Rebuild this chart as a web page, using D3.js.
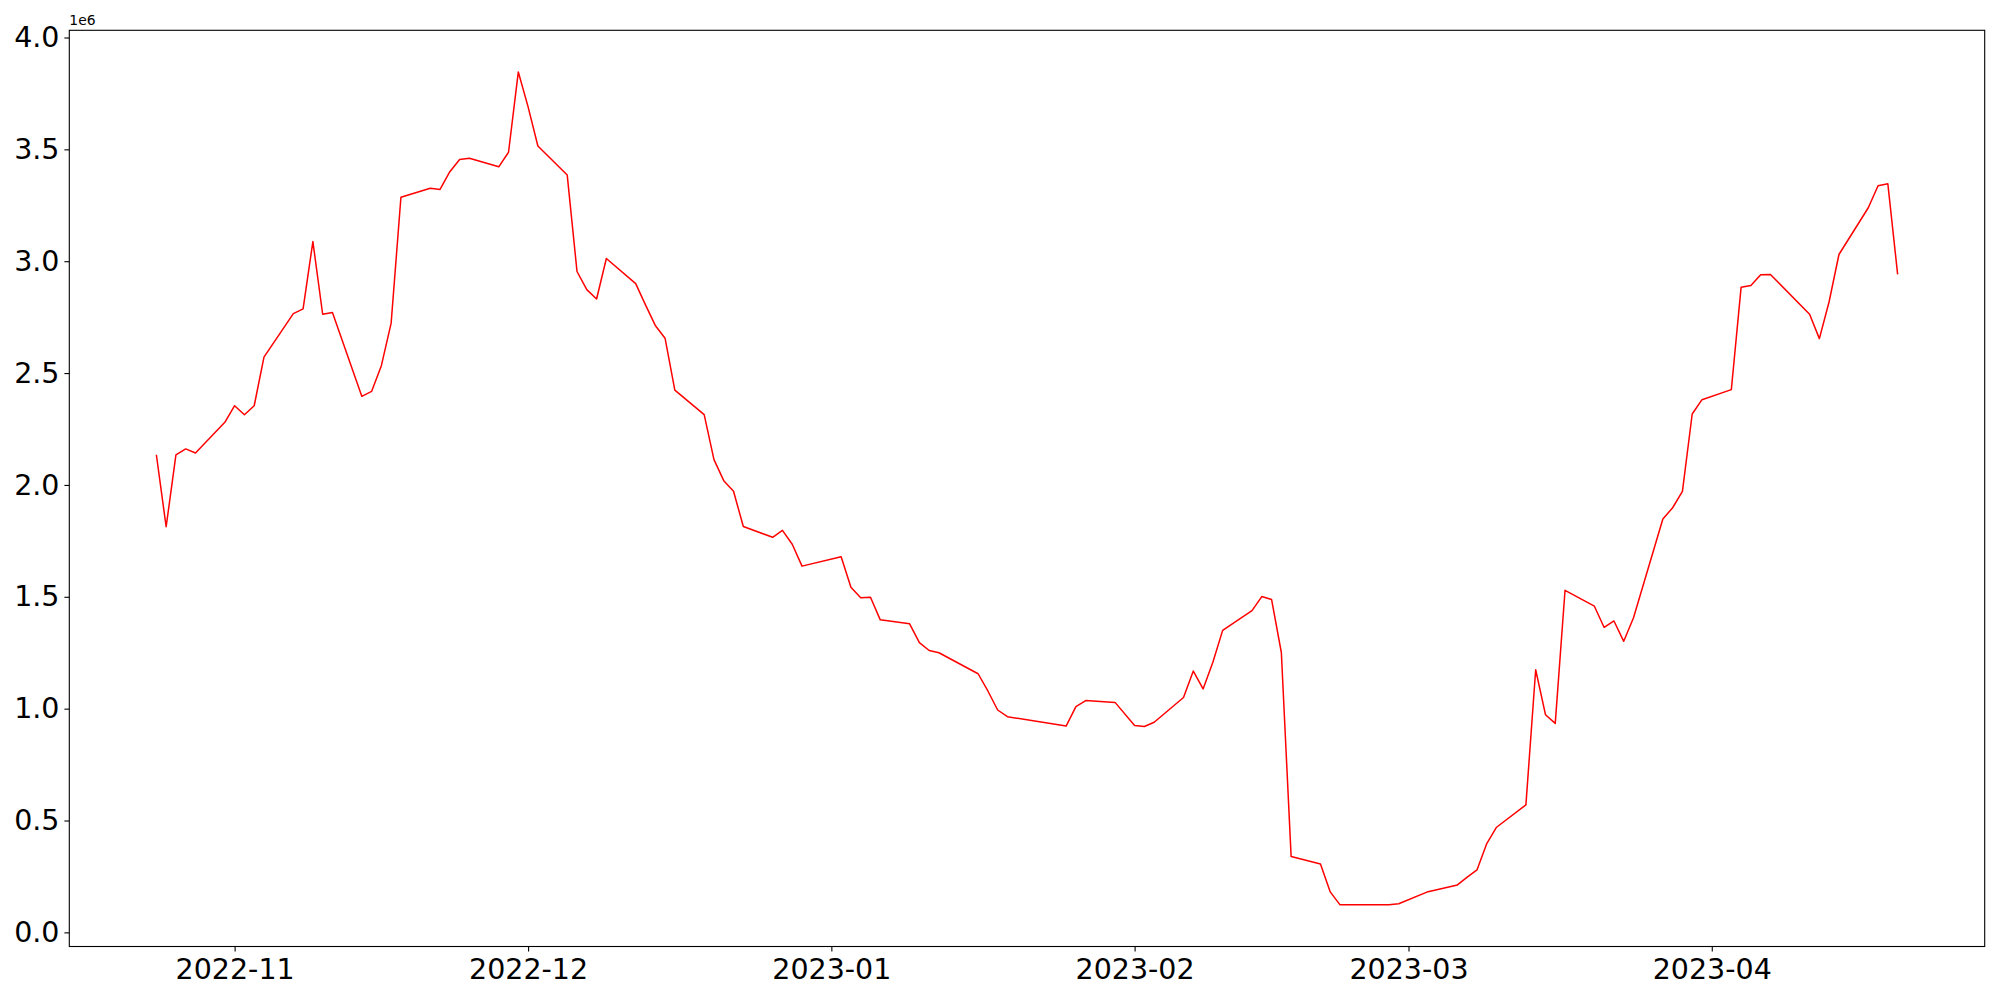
<!DOCTYPE html>
<html>
<head>
<meta charset="utf-8">
<title>Series</title>
<script src="https://cdnjs.cloudflare.com/ajax/libs/d3/7.8.5/d3.min.js"></script>
<style>
    body { margin: 0; background: #fff; }
    svg text { font-family: "DejaVu Sans", sans-serif; fill: #000; }
</style>
</head>
<body>
<div id="chart"></div>
<script>

// trading dates
var dates = [
    "2022-10-24","2022-10-25","2022-10-26","2022-10-27","2022-10-28","2022-10-31",
    "2022-11-01","2022-11-02","2022-11-03","2022-11-04","2022-11-07","2022-11-08",
    "2022-11-09","2022-11-10","2022-11-11","2022-11-14","2022-11-15","2022-11-16",
    "2022-11-17","2022-11-18","2022-11-21","2022-11-22","2022-11-23","2022-11-24",
    "2022-11-25","2022-11-28","2022-11-29","2022-11-30","2022-12-01","2022-12-02",
    "2022-12-05","2022-12-06","2022-12-07","2022-12-08","2022-12-09","2022-12-12",
    "2022-12-13","2022-12-14","2022-12-15","2022-12-16","2022-12-19","2022-12-20",
    "2022-12-21","2022-12-22","2022-12-23","2022-12-26","2022-12-27","2022-12-28",
    "2022-12-29","2023-01-02","2023-01-03","2023-01-04","2023-01-05","2023-01-06",
    "2023-01-09","2023-01-10","2023-01-11","2023-01-12","2023-01-16","2023-01-17",
    "2023-01-18","2023-01-19","2023-01-25","2023-01-26","2023-01-27","2023-01-30",
    "2023-02-01","2023-02-02","2023-02-03","2023-02-06","2023-02-07","2023-02-08",
    "2023-02-09","2023-02-10","2023-02-13","2023-02-14","2023-02-15","2023-02-16",
    "2023-02-17","2023-02-20","2023-02-21","2023-02-22","2023-02-27","2023-02-28",
    "2023-03-03","2023-03-06","2023-03-07","2023-03-08","2023-03-09","2023-03-10",
    "2023-03-13","2023-03-14","2023-03-15","2023-03-16","2023-03-17","2023-03-20",
    "2023-03-21","2023-03-22","2023-03-23","2023-03-24","2023-03-27","2023-03-28",
    "2023-03-29","2023-03-30","2023-03-31","2023-04-03","2023-04-04","2023-04-05",
    "2023-04-06","2023-04-07","2023-04-11","2023-04-12","2023-04-13","2023-04-14",
    "2023-04-17","2023-04-18","2023-04-19","2023-04-20"
];

var values = [
    2135000,1813000,2134000,2161000,2143000,2280000,
    2354000,2314000,2354000,2571000,2766000,2787000,
    3088000,2763000,2771000,2396000,2418000,2533000,
    2723000,3286000,3326000,3321000,3400000,3455000,
    3460000,3422000,3487000,3846000,3690000,3515000,
    3385000,2954000,2873000,2831000,3012000,2900000,
    2805000,2713000,2656000,2424000,2314000,2113000,
    2019000,1972000,1814000,1766000,1797000,1735000,
    1637000,1679000,1543000,1496000,1498000,1397000,
    1379000,1295000,1260000,1250000,1156000,1079000,
    994000,964000,922000,1009000,1036000,1028000,
    925000,920000,939000,1050000,1168000,1088000,
    1207000,1350000,1438000,1501000,1488000,1251000,
    339000,306000,181000,123000,123000,128000,
    182000,212000,247000,279000,397000,470000,
    570000,1174000,973000,934000,1529000,1458000,
    1363000,1392000,1301000,1406000,1848000,1898000,
    1971000,2317000,2381000,2426000,2884000,2891000,
    2939000,2941000,2763000,2654000,2820000,3030000,
    3239000,3337000,3346000,2941000
];

var yTicks = [0, 500000, 1000000, 1500000, 2000000, 2500000, 3000000, 3500000, 4000000];
var xTicks = ["2022-11-01","2022-12-01","2023-01-01","2023-02-01","2023-03-01","2023-04-01"];

var width = 2000;
var height = 1000;
var margin = {left: 69.3, right: 15.3, top: 30.3, bottom: 53.5};

var parse = d3.timeParse("%Y-%m-%d");
var data = dates.map(function(d, i) {
    return {date: parse(d), value: values[i]};
});

// matplotlib style 5% margins
var xExt = d3.extent(data, function(d) { return d.date; });
var xPad = (xExt[1] - xExt[0]) * 0.05;
var yExt = d3.extent(data, function(d) { return d.value; });
var yPad = (yExt[1] - yExt[0]) * 0.05;

var x = d3.scaleTime()
    .domain([new Date(+xExt[0] - xPad), new Date(+xExt[1] + xPad)])
    .range([margin.left, width - margin.right]);

var y = d3.scaleLinear()
    .domain([yExt[0] - yPad, yExt[1] + yPad])
    .range([height - margin.bottom, margin.top]);

var svg = d3.select("#chart").append("svg")
    .attr("width", width)
    .attr("height", height);

var line = d3.line()
    .x(function(d) { return x(d.date); })
    .y(function(d) { return y(d.value); });

svg.append("path")
    .datum(data)
    .attr("d", line)
    .attr("fill", "none")
    .attr("stroke", "#ff0000")
    .attr("stroke-width", 1.5)
    .attr("stroke-linejoin", "round");

// axes
var xAxis = d3.axisBottom(x)
    .tickValues(xTicks.map(parse))
    .tickFormat(d3.timeFormat("%Y-%m"))
    .tickSize(4.9)
    .tickPadding(7.5);

var yAxis = d3.axisLeft(y)
    .tickValues(yTicks)
    .tickFormat(function(d) { return (d / 1e6).toFixed(1); })
    .tickSize(4.9)
    .tickPadding(4.9);

var gx = svg.append("g")
    .attr("transform", "translate(0," + (height - margin.bottom) + ")")
    .call(xAxis);

var gy = svg.append("g")
    .attr("transform", "translate(" + margin.left + ",0)")
    .call(yAxis);

[gx, gy].forEach(function(g) {
    g.select(".domain").remove();
    g.selectAll(".tick line").attr("stroke", "#000").attr("stroke-width", 1.1);
    g.selectAll(".tick text")
        .style("font-family", "DejaVu Sans, sans-serif")
        .style("font-size", "28.5px")
        .attr("fill", "#000");
});

// frame
svg.append("rect")
    .attr("x", margin.left)
    .attr("y", margin.top)
    .attr("width", width - margin.left - margin.right)
    .attr("height", height - margin.top - margin.bottom)
    .attr("fill", "none")
    .attr("stroke", "#000")
    .attr("stroke-width", 1.1);

// offset text
svg.append("text")
    .attr("x", margin.left)
    .attr("y", margin.top - 5)
    .style("font-size", "13.9px")
    .text("1e6");

</script>
</body>
</html>
